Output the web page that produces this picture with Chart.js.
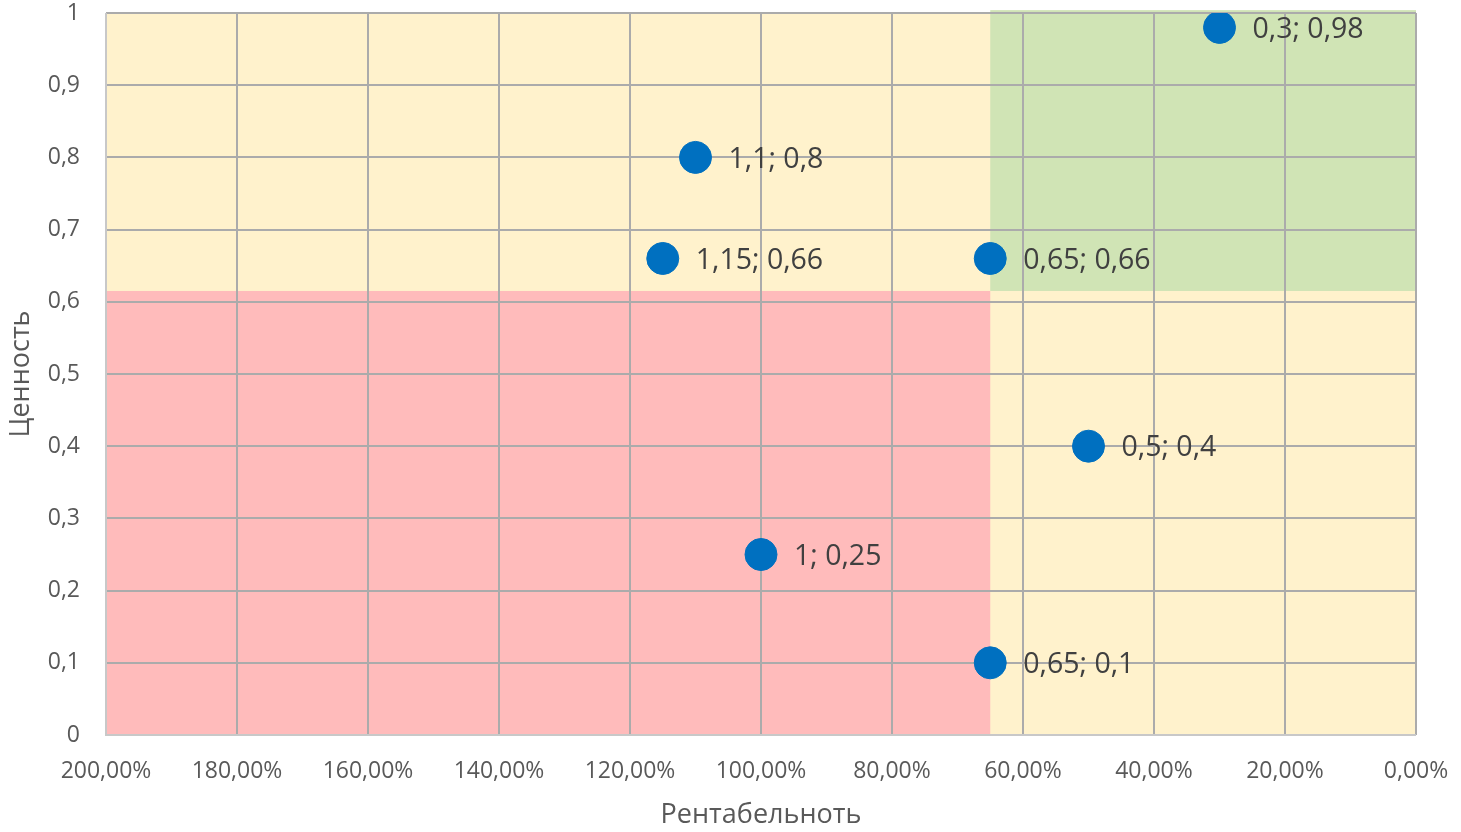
<!DOCTYPE html>
<html><head><meta charset="utf-8">
<script src="https://cdn.jsdelivr.net/npm/chart.js@4.4.1/dist/chart.umd.min.js"></script>
<style>html,body{margin:0;padding:0;background:#fff;}#wrap{width:1461px;height:832px;}</style>
</head><body><div id="wrap"><canvas id="c" width="1461" height="832"></canvas></div>
<script>
// Data
const xValues = [1.1, 1.15, 0.65, 0.3, 0.5, 1, 0.65];
const yValues = [0.8, 0.66, 0.66, 0.98, 0.4, 0.25, 0.1];
const xTitle = 'Рентабельноть';
const yTitle = 'Ценность';
// Zones: [xMin, xMax, yMin, yMax, color]
const zoneYellow = [0, 2, 0, 1, '#FFF2CC'];
const zoneGreen = [0, 0.65, 0.615, 1.004, '#D0E4B5'];
const zoneRed = [0.65, 2, 0, 0.615, '#FFBBBB'];
const zones = [zoneYellow, zoneGreen, zoneRed];

const fmt = v => String(v).replace('.', ',');

const zonePlugin = {
  id: 'zones',
  beforeDatasetsDraw(chart) {
    const {ctx, scales: {x, y}} = chart;
    ctx.save();
    zones.forEach(z => {
      const x1 = x.getPixelForValue(z[0]), x2 = x.getPixelForValue(z[1]);
      const y1 = y.getPixelForValue(z[2]), y2 = y.getPixelForValue(z[3]);
      ctx.fillStyle = z[4];
      ctx.fillRect(Math.min(x1, x2), Math.min(y1, y2), Math.abs(x2 - x1), Math.abs(y2 - y1));
    });
    ctx.restore();
  }
};

const gridOverPlugin = {
  id: 'gridOver',
  beforeDatasetsDraw(chart) {
    const {ctx, scales: {x, y}, chartArea: a} = chart;
    ctx.save();
    ctx.strokeStyle = '#ABABAB';
    ctx.lineWidth = 2;
    x.ticks.forEach(t => {
      const px = Math.round(x.getPixelForValue(t.value));
      if (Math.abs(px - a.left) < 1) return;
      ctx.beginPath(); ctx.moveTo(px, a.top); ctx.lineTo(px, a.bottom); ctx.stroke();
    });
    y.ticks.forEach(t => {
      const py = Math.round(y.getPixelForValue(t.value));
      if (Math.abs(py - a.bottom) < 1) return;
      ctx.beginPath(); ctx.moveTo(a.left, py); ctx.lineTo(a.right, py); ctx.stroke();
    });
    ctx.strokeStyle = '#C8C8C8';
    ctx.beginPath(); ctx.moveTo(a.left, a.top); ctx.lineTo(a.left, a.bottom); ctx.lineTo(a.right, a.bottom); ctx.stroke();
    ctx.restore();
  }
};

const labelPlugin = {
  id: 'pointLabels',
  afterDatasetsDraw(chart) {
    const {ctx} = chart;
    const meta = chart.getDatasetMeta(0);
    ctx.save();
    ctx.font = '28.5px "Open Sans"';
    ctx.fillStyle = '#404040';
    ctx.textAlign = 'left';
    ctx.textBaseline = 'middle';
    meta.data.forEach((pt, i) => {
      ctx.fillText(fmt(xValues[i]) + '; ' + fmt(yValues[i]), pt.x + 33, pt.y + 2);
    });
    ctx.restore();
  }
};

const zeroPad = s => { s.paddingTop = 0; s.paddingBottom = 0; s.paddingLeft = 0; s.paddingRight = 0; };

new Chart(document.getElementById('c'), {
  type: 'scatter',
  data: {
    datasets: [{
      data: xValues.map((v, i) => ({x: v, y: yValues[i]})),
      backgroundColor: '#0070C0',
      borderColor: '#0070C0',
      pointRadius: 16,
      pointHoverRadius: 16
    }]
  },
  options: {
    responsive: false,
    animation: false,
    events: [],
    layout: {autoPadding: false, padding: {top: 13, right: 45, left: 0, bottom: 0}},
    plugins: {legend: {display: false}, tooltip: {enabled: false}},
    scales: {
      x: {
        type: 'linear', reverse: true, min: 0, max: 2,
        ticks: {stepSize: 0.2, padding: 23, color: '#595959', font: {family: 'Open Sans', size: 23},
          maxRotation: 0, autoSkip: false,
          callback: v => (v * 100).toFixed(2).replace('.', ',') + '%'},
        grid: {display: false, drawTicks: false},
        border: {display: false},
        title: {display: true, text: xTitle, color: '#595959', font: {family: 'Open Sans', size: 27}, padding: {top: 0, bottom: 0}},
        afterFit: s => { s.height = 97; zeroPad(s); }
      },
      y: {
        type: 'linear', min: 0, max: 1,
        ticks: {stepSize: 0.1, padding: 26, color: '#595959', font: {family: 'Open Sans', size: 23},
          callback: v => fmt(Math.round(v * 10) / 10)},
        grid: {display: false, drawTicks: false},
        border: {display: false},
        title: {display: true, text: yTitle, color: '#595959', font: {family: 'Open Sans', size: 27}, padding: {top: 5, bottom: 0}},
        afterFit: s => { s.width = 106; zeroPad(s); }
      }
    }
  },
  plugins: [zonePlugin, gridOverPlugin, labelPlugin]
});
</script>
</body></html>
